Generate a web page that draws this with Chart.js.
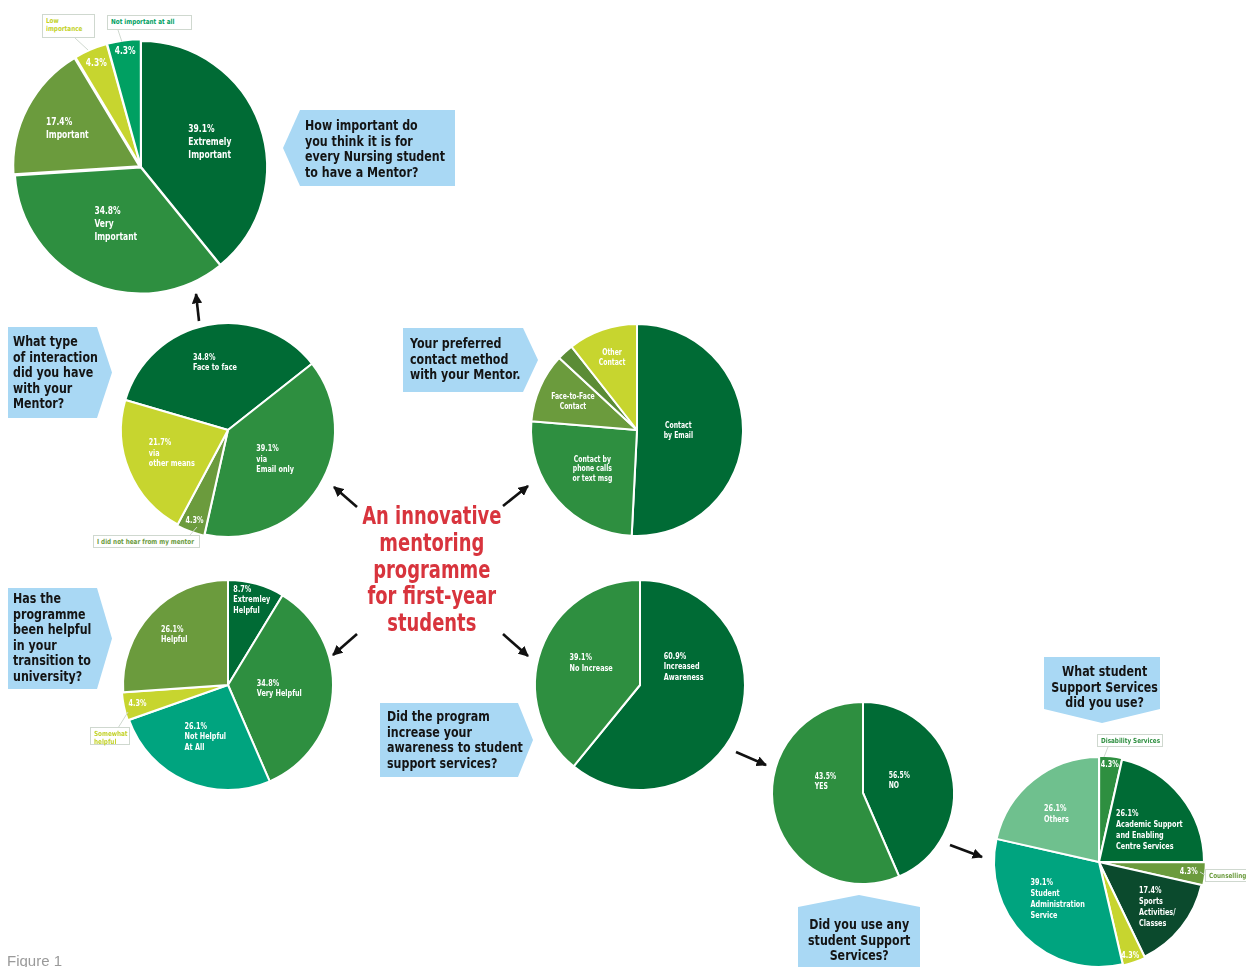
<!DOCTYPE html>
<html>
<head>
<meta charset="utf-8">
<script src="https://cdn.jsdelivr.net/npm/chart.js@4.4.1/dist/chart.umd.min.js"></script>
<style>
  html,body{margin:0;padding:0;background:#fff;}
  body{width:1246px;height:967px;position:relative;overflow:hidden;
       font-family:"Liberation Sans Narrow","DejaVu Sans Condensed",sans-serif;}
  canvas{position:absolute;}
  .callout{position:absolute;background:#a9d8f4;color:#141414;font-weight:bold;
           font-size:14px;line-height:15.6px;box-sizing:border-box;}
  .callout .t{display:inline-block;white-space:nowrap;transform:scaleX(0.88);transform-origin:0 0;}
  .callout.c .t{transform-origin:50% 0;}
  .tag{position:absolute;border:1px solid #cfd8cf;background:#fff;font-weight:bold;
       font-size:7px;line-height:8px;box-sizing:border-box;padding:2px 3px;white-space:nowrap;}
  .tag .t{display:inline-block;transform:scaleX(0.9);transform-origin:0 0;}
  #title{position:absolute;left:332px;top:503px;width:200px;text-align:center;color:#d8343d;
         font-weight:bold;font-size:24px;line-height:26.8px;}
  #title .t{display:inline-block;transform:scaleX(0.83);transform-origin:50% 0;}
  #fig{position:absolute;left:7px;top:952px;color:#9a9a9a;font-family:"Liberation Sans",Arial,sans-serif;font-size:15px;}
  svg{position:absolute;left:0;top:0;}
</style>
</head>
<body>
<script>
// ---------- DATA ----------
const importanceLabels = ['Extremely Important','Very Important','Important','Low importance','Not important at all'];
const importanceValues = [39.1, 34.8, 17.4, 4.3, 4.3];
const importanceText = [['39.1%','Extremely','Important'],['34.8%','Very','Important'],['17.4%','Important'],['4.3%'],['4.3%']];

const interactionLabels = ['Face to face','via Email only','I did not hear from my mentor','via other means'];
const interactionValues = [34.8, 39.1, 4.3, 21.7];
const interactionText = [['34.8%','Face to face'],['39.1%','via','Email only'],['4.3%'],['21.7%','via','other means']];

const contactLabels = ['Contact by Email','Contact by phone calls or text msg','Face-to-Face Contact','(unlabelled)','Other Contact'];
const contactValues = [50.8, 25.5, 10.6, 2.5, 10.6];
const contactText = [['Contact','by Email'],['Contact by','phone calls','or text msg'],['Face-to-Face','Contact'],[],['Other','Contact']];

const helpfulLabels = ['Extremely helpful','Very Helpful','Not Helpful At All','Somewhat helpful','Helpful'];
const helpfulValues = [8.7, 34.8, 26.1, 4.3, 26.1];
const helpfulText = [['8.7%','Extremley','Helpful'],['34.8%','Very Helpful'],['26.1%','Not Helpful','At All'],['4.3%'],['26.1%','Helpful']];

const awarenessLabels = ['Increased Awareness','No Increase'];
const awarenessValues = [60.9, 39.1];
const awarenessText = [['60.9%','Increased','Awareness'],['39.1%','No Increase']];

const useLabels = ['NO','YES'];
const useValues = [43.5, 56.5];          // slice sizes as drawn
const useText = [['56.5%','NO'],['43.5%','YES']]; // printed as in the figure

const servicesLabels = ['Disability Services','Academic Support and Enabling Centre Services','Counselling','Sports Activities/ Classes','(unlabelled)','Student Administration Service','Others'];
const servicesValues = [4.3, 26.1, 4.3, 17.4, 4.3, 39.1, 26.1];
const servicesText = [['4.3%'],['26.1%','Academic Support','and Enabling','Centre Services'],['4.3%'],['17.4%','Sports','Activities/','Classes'],['4.3%'],['39.1%','Student','Administration','Service'],['26.1%','Others']];

// ---------- STYLE / LAYOUT ----------
const C = {dk:'#006b35', md:'#2e8f40', ol:'#6b9b3d', ol2:'#5b8c36', yl:'#c7d52f', tg:'#00a062', tl:'#00a47f', vd:'#0b4a2d', lt:'#6fc08e'};
const FONT = '"Liberation Sans Narrow","DejaVu Sans Condensed",sans-serif';
const SX = 0.8;

const sliceLabels = {
  id:'sliceLabels',
  afterDatasetsDraw(chart, args, o){
    const ctx = chart.ctx;
    const meta = chart.getDatasetMeta(0);
    ctx.save();
    ctx.fillStyle = '#fff';
    ctx.textBaseline = 'middle';
    ctx.font = 'bold ' + o.size + 'px ' + FONT;
    meta.data.forEach((arc, i) => {
      const lines = o.text[i];
      if (!lines || !lines.length) return;
      const p = arc.getProps(['x','y','startAngle','endAngle','outerRadius'], true);
      const pos = (o.pos && o.pos[i]) || [0.6, 0];
      const a = (p.startAngle + p.endAngle) / 2 + pos[1] * Math.PI / 180;
      const cx = p.x + Math.cos(a) * p.outerRadius * pos[0];
      const cy = p.y + Math.sin(a) * p.outerRadius * pos[0];
      let w = 0; lines.forEach(l => { w = Math.max(w, ctx.measureText(l).width * SX); });
      const h = o.lh * lines.length;
      lines.forEach((l, k) => {
        const y = cy - h / 2 + o.lh * (k + 0.5);
        ctx.save();
        if (o.align === 'center') { ctx.translate(cx, y); ctx.textAlign = 'center'; }
        else { ctx.translate(cx - w / 2, y); ctx.textAlign = 'left'; }
        ctx.scale(SX, 1);
        ctx.fillText(l, 0, 0);
        ctx.restore();
      });
    });
    ctx.restore();
  }
};

function pie(cx, cy, r, labels, values, colors, opt){
  const S = Math.round(2 * r + 24);
  const cv = document.createElement('canvas');
  cv.width = S; cv.height = S;
  cv.style.left = (cx - S / 2) + 'px'; cv.style.top = (cy - S / 2) + 'px';
  document.body.appendChild(cv);
  new Chart(cv, {
    type:'pie',
    data:{labels:labels, datasets:[{data:values, backgroundColor:colors, borderColor:'#fff',
          borderWidth:2, offset:opt.offset || 0}]},
    options:{responsive:false, animation:false, radius:r, rotation:opt.rotation || 0,
      layout:{padding:0},
      plugins:{legend:{display:false}, tooltip:{enabled:false},
        sliceLabels:{text:opt.text, pos:opt.pos, size:opt.size, lh:opt.lh, align:opt.align}}},
    plugins:[sliceLabels]
  });
}

pie(141, 167, 126, importanceLabels, importanceValues, [C.dk, C.md, C.ol, C.yl, C.tg],
  {offset:[0,2,7,4,4], text:importanceText, size:10.5, lh:13,
   pos:[[0.58,0],[0.5,0],[0.66,0],[0.9,0],[0.93,0]]});

pie(228, 430, 107, interactionLabels, interactionValues, [C.dk, C.md, C.ol, C.yl],
  {rotation:-73.7, offset:[0,0,3,0], text:interactionText, size:9, lh:10.5,
   pos:[[0.64,0],[0.52,0],[0.9,0],[0.57,0]]});

pie(637, 430, 106, contactLabels, contactValues, [C.dk, C.md, C.ol, C.ol2, C.yl],
  {text:contactText, size:8.5, lh:9.5, align:'center',
   pos:[[0.39,0],[0.56,0],[0.66,0],[0.6,0],[0.72,0]]});

pie(228, 685, 105, helpfulLabels, helpfulValues, [C.dk, C.md, C.tl, C.yl, C.ol],
  {offset:[0,0,0,3,0], text:helpfulText, size:9, lh:10.5,
   pos:[[0.84,0],[0.49,0],[0.54,0],[0.88,0],[0.7,0]]});

pie(640, 685, 105, awarenessLabels, awarenessValues, [C.dk, C.md],
  {text:awarenessText, size:9, lh:10.5, pos:[[0.45,-42],[0.51,4.6]]});

pie(863, 793, 91, useLabels, useValues, [C.dk, C.md],
  {text:useText, size:8.5, lh:10, pos:[[0.42,-6.7],[0.43,28]]});

pie(1099, 862, 105, servicesLabels, servicesValues, [C.md, C.dk, C.ol, C.vd, C.yl, C.tl, C.lt],
  {offset:[3,0,4,0,3,0,0], text:servicesText, size:9, lh:11,
   pos:[[0.93,0],[0.57,6],[0.86,0],[0.7,-1],[0.94,1],[0.53,3],[0.61,-3]]});
</script>

<svg width="1246" height="967">
  <defs>
    <marker id="ah" viewBox="0 0 10 10" refX="9" refY="5" markerWidth="4" markerHeight="4" orient="auto">
      <path d="M0,0 L10,5 L0,10 z" fill="#111"/>
    </marker>
  </defs>
  <g stroke="#111" stroke-width="2.6" fill="none" marker-end="url(#ah)">
    <line x1="199" y1="321" x2="196" y2="294"/>
    <line x1="357" y1="507" x2="334" y2="487"/>
    <line x1="503" y1="506" x2="528" y2="486"/>
    <line x1="357" y1="634" x2="333" y2="655"/>
    <line x1="503" y1="634" x2="528" y2="656"/>
    <line x1="736" y1="752" x2="766" y2="765"/>
    <line x1="950" y1="845" x2="982" y2="857"/>
  </g>
  <g stroke="#cfd8cf" stroke-width="1" fill="none">
    <line x1="75" y1="38" x2="88" y2="50"/>
    <line x1="118" y1="30" x2="122" y2="42"/>
    <line x1="190" y1="535" x2="197" y2="527"/>
    <line x1="118" y1="728" x2="128" y2="712"/>
    <line x1="1108" y1="747" x2="1104" y2="757"/>
    <line x1="1205" y1="875" x2="1200" y2="872"/>
  </g>
</svg>

<div class="tag" style="left:42px;top:14px;width:53px;height:24px;color:#c3d22a;"><span class="t">Low<br>importance</span></div>
<div class="tag" style="left:107px;top:15px;width:85px;height:15px;color:#00a062;"><span class="t">Not important at all</span></div>
<div class="tag" style="left:93px;top:535px;width:107px;height:13px;color:#6b9b3d;"><span class="t">I did not hear from my mentor</span></div>
<div class="tag" style="left:90px;top:727px;width:40px;height:18px;color:#c3d22a;"><span class="t">Somewhat<br>helpful</span></div>
<div class="tag" style="left:1097px;top:734px;width:66px;height:13px;color:#2e8f40;"><span class="t">Disability Services</span></div>
<div class="tag" style="left:1205px;top:869px;width:50px;height:13px;color:#6b9b3d;"><span class="t">Counselling</span></div>

<div class="callout" style="left:283px;top:110px;width:172px;height:76px;padding:8px 0 0 22px;
  clip-path:polygon(17px 0,100% 0,100% 100%,17px 100%,0 50%);"><span class="t">How important do<br>you think it is for<br>every Nursing student<br>to have a Mentor?</span></div>
<div class="callout" style="left:8px;top:327px;width:104px;height:91px;padding:7px 0 0 5px;
  clip-path:polygon(0 0,89px 0,100% 50%,89px 100%,0 100%);"><span class="t">What type<br>of interaction<br>did you have<br>with your<br>Mentor?</span></div>
<div class="callout" style="left:403px;top:328px;width:135px;height:64px;padding:8px 0 0 7px;
  clip-path:polygon(0 0,120px 0,100% 50%,120px 100%,0 100%);"><span class="t">Your preferred<br>contact method<br>with your Mentor.</span></div>
<div class="callout" style="left:8px;top:588px;width:104px;height:101px;padding:3px 0 0 5px;
  clip-path:polygon(0 0,89px 0,100% 50%,89px 100%,0 100%);"><span class="t">Has the<br>programme<br>been helpful<br>in your<br>transition to<br>university?</span></div>
<div class="callout" style="left:380px;top:703px;width:153px;height:74px;padding:6px 0 0 7px;
  clip-path:polygon(0 0,138px 0,100% 50%,138px 100%,0 100%);"><span class="t">Did the program<br>increase your<br>awareness to student<br>support services?</span></div>
<div class="callout c" style="left:798px;top:895px;width:122px;height:72px;padding:22px 0 0 0;text-align:center;
  clip-path:polygon(0 12px,50% 0,100% 12px,100% 100%,0 100%);"><span class="t">Did you use any<br>student Support<br>Services?</span></div>
<div class="callout c" style="left:1044px;top:657px;width:116px;height:66px;padding:7px 0 0 0;text-align:center;
  clip-path:polygon(0 0,100% 0,100% 52px,50% 100%,0 52px);"><span class="t">What student<br>Support Services<br>did you use?</span></div>

<div id="title"><span class="t">An innovative<br>mentoring<br>programme<br>for first-year<br>students</span></div>
<div id="fig">Figure 1</div>
</body>
</html>
